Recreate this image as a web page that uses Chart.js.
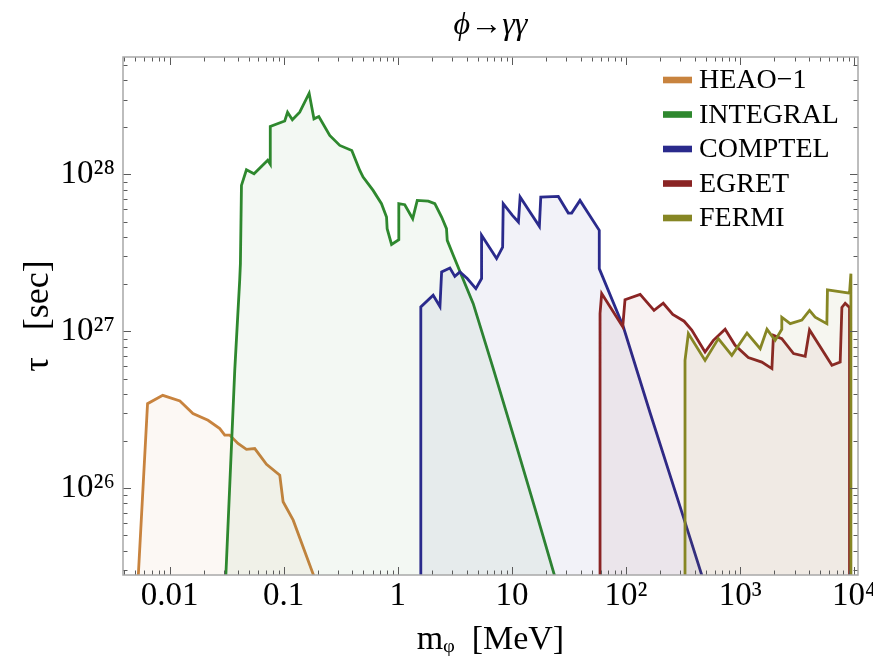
<!DOCTYPE html>
<html>
<head>
<meta charset="utf-8">
<script src="https://cdn.jsdelivr.net/npm/chart.js@4.4.1/dist/chart.umd.min.js"></script>
<style>
html,body{margin:0;padding:0;background:#ffffff;}
#wrap{width:873px;height:670px;}
</style>
</head>
<body>
<div id="wrap"><canvas id="c" width="873" height="670"></canvas></div>
<script>
// ---- data ----
const seriesNames = ['HEAO\u22121', 'INTEGRAL', 'COMPTEL', 'EGRET', 'FERMI'];
const seriesColors = ['rgb(200,131,62)', 'rgb(46,136,46)', 'rgb(42,42,140)', 'rgb(138,36,36)', 'rgb(134,134,36)'];
const seriesFills = ['rgba(200,131,62,0.06)', 'rgba(46,136,46,0.06)', 'rgba(42,42,140,0.06)', 'rgba(138,36,36,0.06)', 'rgba(134,134,36,0.07)'];

const heaoMass = [0.0053, 0.0064, 0.0087, 0.0123, 0.0160, 0.0217, 0.0275, 0.0304, 0.0336, 0.0397, 0.0471, 0.0557, 0.0706, 0.0923, 0.0987, 0.121, 0.187];
const heaoTau  = [2.7e25, 3.46e26, 3.91e26, 3.60e26, 2.99e26, 2.71e26, 2.40e26, 2.18e26, 2.18e26, 1.93e26, 1.77e26, 1.79e26, 1.42e26, 1.21e26, 8.2e25, 6.26e25, 2.66e25];

const integralMass = [0.0310, 0.0372, 0.0411, 0.0417, 0.0426, 0.0471, 0.0549, 0.0724, 0.0762, 0.0762, 0.102, 0.108, 0.119, 0.138, 0.167, 0.184, 0.203, 0.253, 0.310, 0.395, 0.464, 0.496, 0.607, 0.719, 0.796, 0.806, 0.881, 1.02, 1.02, 1.15, 1.35, 1.48, 1.85, 2.11, 2.42, 2.67, 2.71, 3.06, 3.62, 4.58, 6.86, 10.6, 15.9, 24.3];
const integralTau  = [2.66e25, 5.64e26, 2.11e27, 2.70e27, 8.51e27, 1.07e28, 1.01e28, 1.23e28, 1.16e28, 2.02e28, 2.19e28, 2.49e28, 2.23e28, 2.49e28, 3.29e28, 2.26e28, 2.34e28, 1.77e28, 1.53e28, 1.42e28, 1.06e28, 9.61e27, 7.91e27, 6.51e27, 5.35e27, 4.51e27, 3.58e27, 3.84e27, 6.51e27, 6.41e27, 5.22e27, 6.83e27, 6.76e27, 6.51e27, 5.35e27, 4.51e27, 3.80e27, 3.05e27, 2.27e27, 1.50e27, 5.79e26, 2.02e26, 7.46e25, 2.59e25];

const comptelMass = [1.59, 1.59, 2.04, 2.34, 2.42, 2.86, 3.16, 3.50, 4.06, 4.83, 5.42, 5.42, 7.34, 8.29, 8.39, 10.1, 11.4, 11.8, 17.4, 17.9, 25.5, 31.2, 33.4, 39.5, 58.3, 58.3, 94.7, 162, 318, 477];
const comptelTau  = [2.59e25, 1.43e27, 1.70e27, 1.44e27, 2.39e27, 2.53e27, 2.24e27, 2.39e27, 2.17e27, 1.87e27, 2.17e27, 4.09e27, 2.91e27, 3.44e27, 6.51e27, 5.48e27, 4.97e27, 7.17e27, 4.67e27, 7.17e27, 7.24e27, 5.67e27, 5.67e27, 6.83e27, 4.40e27, 2.51e27, 1.07e27, 3.05e26, 6.57e25, 2.59e25];

const egretMass = [59.2, 59.2, 61.2, 93.6, 98.0, 133, 176, 212, 257, 323, 377, 493, 583, 739, 904, 1180, 1550, 1900, 1960, 2320, 2940, 3720, 4060, 6380, 7540, 7800, 8340, 9100, 9100];
const egretTau  = [2.67e25, 1.30e27, 1.74e27, 1.07e27, 1.59e27, 1.72e27, 1.36e27, 1.51e27, 1.28e27, 1.16e27, 1.02e27, 7.38e26, 8.76e26, 1.03e27, 8.14e26, 6.80e26, 6.37e26, 5.79e26, 9.43e26, 8.99e26, 7.21e26, 6.93e26, 1.02e27, 6.07e26, 6.37e26, 1.42e27, 1.51e27, 1.42e27, 2.67e25];

const fermiMass = [329, 329, 352, 493, 645, 846, 1150, 1500, 1720, 2030, 2320, 2320, 2750, 3480, 4060, 4550, 5760, 5830, 9100, 9360, 9360];
const fermiTau  = [2.67e25, 6.53e26, 9.67e26, 6.53e26, 8.99e26, 7.03e26, 9.75e26, 7.76e26, 1.03e27, 8.76e26, 1.03e27, 1.23e27, 1.12e27, 1.18e27, 1.36e27, 1.23e27, 1.12e27, 1.84e27, 1.75e27, 2.33e27, 2.67e25];

const xTickValues = [0.01, 0.1, 1, 10, 100, 1000, 10000];
const xTickLabels = ['0.01', '0.1', '1', '10', '10\u00B2', '10\u00B3', '10\u2074'];
const yTickValues = [1e26, 1e27, 1e28];
const yTickLabels = ['10\u00B2\u2076', '10\u00B2\u2077', '10\u00B2\u2078'];

const titleText = '\u03D5\u2192\u03B3\u03B3';
const xTitle = 'm\u1D69  [MeV]';
const yTitle = '\u03C4   [sec]';

// ---- helpers ----
const massSets = [heaoMass, integralMass, comptelMass, egretMass, fermiMass];
const tauSets = [heaoTau, integralTau, comptelTau, egretTau, fermiTau];

function isPow10(v) {
  const l = Math.log10(v);
  return Math.abs(l - Math.round(l)) < 1e-6;
}
function logTicks(min, max) {
  const out = [];
  for (let k = Math.floor(Math.log10(min)); k <= Math.ceil(Math.log10(max)); k++) {
    for (let m = 1; m <= 9; m++) {
      const v = m * Math.pow(10, k);
      if (v >= min && v <= max) out.push({ value: v });
    }
  }
  return out;
}
function labelFrom(values, labels, v) {
  for (let i = 0; i < values.length; i++) {
    if (Math.abs(Math.log10(v) - Math.log10(values[i])) < 1e-6) return labels[i];
  }
  return '';
}

const datasets = seriesNames.map((name, i) => ({
  label: name,
  data: massSets[i].map((m, j) => ({ x: m, y: tauSets[i][j] })),
  borderColor: seriesColors[i],
  backgroundColor: seriesFills[i],
  borderWidth: 2.8,
  pointRadius: 0,
  tension: 0,
  fill: 'start',
  order: seriesNames.length - i
}));

const serif = 'Liberation Serif';

const frameTicks = {
  id: 'frameTicks',
  afterDatasetsDraw(chart) {
    const ctx = chart.ctx;
    const { left, right, top, bottom } = chart.chartArea;
    const xs = chart.scales.x, ys = chart.scales.y;
    ctx.save();
    ctx.strokeStyle = '#5a5a5a';
    ctx.lineWidth = 1;
    ctx.beginPath();
    xs.ticks.forEach(t => {
      const px = Math.round(xs.getPixelForValue(t.value)) + 0.5;
      const len = isPow10(t.value) ? 8 : 4.5;
      ctx.moveTo(px, bottom); ctx.lineTo(px, bottom - len);
      ctx.moveTo(px, top); ctx.lineTo(px, top + len);
    });
    ys.ticks.forEach(t => {
      const py = Math.round(ys.getPixelForValue(t.value)) + 0.5;
      const len = isPow10(t.value) ? 8 : 4.5;
      ctx.moveTo(left, py); ctx.lineTo(left + len, py);
      ctx.moveTo(right, py); ctx.lineTo(right - len, py);
    });
    ctx.stroke();
    ctx.strokeStyle = '#a8a8a8';
    ctx.lineWidth = 1.5;
    ctx.strokeRect(left, top, right - left, bottom - top);
    ctx.restore();
  }
};

const insideLegend = {
  id: 'insideLegend',
  afterDraw(chart) {
    const ctx = chart.ctx;
    const area = chart.chartArea;
    const x0 = area.right - 195;
    const y0 = area.top + 23;
    const dy = 34.5;
    ctx.save();
    ctx.font = '28px "' + serif + '"';
    ctx.textBaseline = 'middle';
    ctx.textAlign = 'left';
    chart.data.datasets.forEach((ds, i) => {
      const y = y0 + i * dy;
      ctx.fillStyle = ds.borderColor;
      ctx.fillRect(x0, y - 3.3, 29, 6.6);
      ctx.fillStyle = '#000';
      ctx.fillText(ds.label, x0 + 36, y + 1);
    });
    ctx.restore();
  }
};

new Chart(document.getElementById('c'), {
  type: 'line',
  data: { datasets },
  options: {
    responsive: false,
    animation: false,
    events: [],
    layout: { padding: { top: 0, right: 15, bottom: 0, left: 0 } },
    plugins: {
      legend: { display: false },
      tooltip: { enabled: false },
      title: {
        display: true,
        fullSize: false,
        text: titleText,
        color: '#000',
        font: { family: serif, size: 32, style: 'italic', weight: 'normal' },
        padding: { top: 6, bottom: 12.6 }
      }
    },
    scales: {
      x: {
        type: 'logarithmic',
        bounds: 'data',
        min: 0.0039,
        max: 10800,
        grid: { display: false, drawTicks: false },
        border: { display: false },
        afterBuildTicks: s => { s.ticks = logTicks(s.min, s.max); },
        afterFit: s => { s.height = 95; s.paddingLeft = 0; s.paddingRight = 0; },
        ticks: {
          autoSkip: false, maxRotation: 0, minRotation: 0, padding: 2,
          color: '#000',
          font: { family: serif, size: 33 },
          callback: v => labelFrom(xTickValues, xTickLabels, v)
        },
        title: {
          display: true, text: xTitle, color: '#000',
          font: { family: serif, size: 34 },
          padding: { top: 0, bottom: 10 }
        }
      },
      y: {
        type: 'logarithmic',
        bounds: 'data',
        min: 2.8e25,
        max: 5.6e28,
        grid: { display: false, drawTicks: false },
        border: { display: false },
        afterBuildTicks: s => { s.ticks = logTicks(s.min, s.max); },
        afterFit: s => { s.width = 123; s.paddingTop = 0; s.paddingBottom = 0; },
        ticks: {
          autoSkip: false, padding: 8,
          color: '#000',
          font: { family: serif, size: 33 },
          callback: v => labelFrom(yTickValues, yTickLabels, v)
        },
        title: {
          display: true, text: yTitle, color: '#000',
          font: { family: serif, size: 36 },
          padding: { top: 17, bottom: 0 }
        }
      }
    }
  },
  plugins: [frameTicks, insideLegend]
});
</script>
</body>
</html>
